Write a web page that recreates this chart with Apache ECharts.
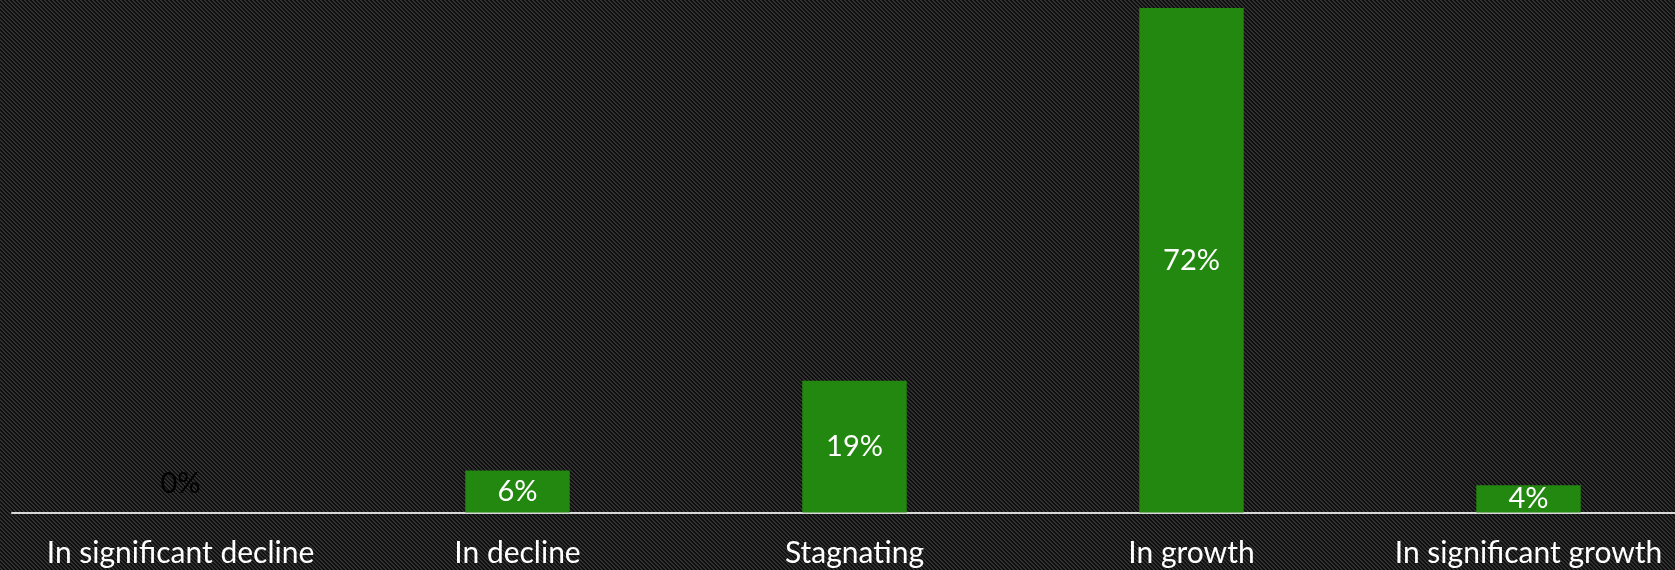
<!DOCTYPE html>
<html>
<head>
<meta charset="utf-8">
<script src="https://cdn.jsdelivr.net/npm/echarts@6/dist/echarts.min.js"></script>
<style>
  html, body { margin: 0; padding: 0; background: #1a1a1a; }
  #chart { width: 1675px; height: 570px; }
</style>
</head>
<body>
<div id="chart"></div>
<script>
// trend categories and share of answers (%)
var categories = ['In significant decline', 'In decline', 'Stagnating', 'In growth', 'In significant growth'];
var shares = [0, 6.0, 18.8, 72.0, 3.9];

// small tile for the carbon-stripe background
function stripeTile () {
  var c = document.createElement('canvas');
  c.width = 4; c.height = 4;
  var ctx = c.getContext('2d');
  ctx.fillStyle = '#0e0e0e';
  ctx.fillRect(0, 0, 4, 4);
  for (var y = 0; y < 4; y++) {
    for (var x = 0; x < 4; x++) {
      var d = ((x - y) % 4 + 4) % 4;
      if (d === 0) { ctx.fillStyle = '#363636'; ctx.fillRect(x, y, 1, 1); }
      if (d === 1) { ctx.fillStyle = '#2a2a2a'; ctx.fillRect(x, y, 1, 1); }
    }
  }
  return c;
}

var chart = echarts.init(document.getElementById('chart'));
var fontFamily = 'Lato, "Open Sans", sans-serif';

var barData = shares.map(function (v) {
  var item = { value: v };
  if (v === 0) {
    // empty bar: label sits just above the axis, in black
    item.label = { color: '#000', offset: [0, -29] };
  }
  return item;
});

chart.setOption({
  backgroundColor: { image: stripeTile(), repeat: 'repeat' },
  animation: false,
  grid: { left: 12, right: -22, top: 8, bottom: 57.5, outerBoundsMode: 'none', containLabel: false },
  xAxis: {
    type: 'category',
    data: categories,
    axisLine: { lineStyle: { color: '#d9d9d9', width: 2 } },
    axisTick: { show: false },
    axisLabel: {
      color: '#fff',
      fontSize: 30,
      fontFamily: fontFamily,
      margin: 26,
      interval: 0
    }
  },
  yAxis: {
    type: 'value',
    min: 0,
    max: 72,
    show: false,
    splitLine: { show: false }
  },
  series: [
    {
      type: 'bar',
      data: barData,
      barWidth: '31%',
      itemStyle: { color: '#23880f' },
      label: {
        show: true,
        position: 'inside',
        color: '#fff',
        fontSize: 29,
        fontFamily: fontFamily,
        formatter: function (p) { return Math.round(p.value) + '%'; }
      }
    }
  ]
});
</script>
</body>
</html>
